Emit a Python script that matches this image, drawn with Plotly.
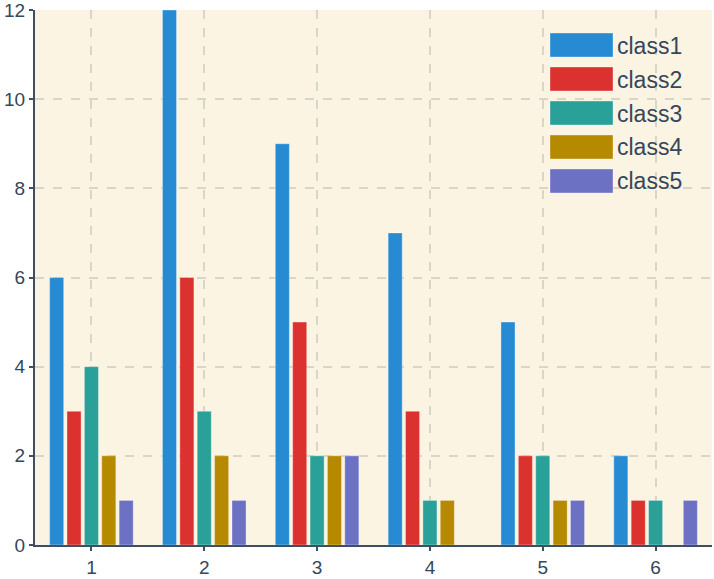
import plotly.graph_objects as go

categories = ["1", "2", "3", "4", "5", "6"]
series_names = ["class1", "class2", "class3", "class4", "class5"]
class1 = [6, 12, 9, 7, 5, 2]
class2 = [3, 6, 5, 3, 2, 1]
class3 = [4, 3, 2, 1, 2, 1]
class4 = [2, 2, 2, 1, 1, None]
class5 = [1, 1, 2, None, 1, 1]
y_ticks = [0, 2, 4, 6, 8, 10, 12]

series_values = [class1, class2, class3, class4, class5]
colors = ["#268bd2", "#dc322f", "#2aa198", "#b58900", "#6c71c4"]

TEXT = "#34475b"
GRID = "#d6d6c9"
BG = "#fcf4e3"
FONT = "Liberation Sans, Arial, sans-serif"

W, H = 714, 579
ML, MR, MT, MB = 35, 2, 10, 34
PW, PH = W - ML - MR, H - MT - MB

fig = go.Figure()
for name, vals, col in zip(series_names, series_values, colors):
    fig.add_trace(go.Bar(
        x=[int(c) for c in categories], y=vals, name=name,
        marker=dict(color=col, line=dict(color="rgba(255,255,255,0.35)", width=1)),
        showlegend=False,
    ))

def px_x(p):
    return (p - ML) / PW

def px_y(p):
    return (H - MB - p) / PH

shapes = []
annotations = []
for i, (name, col) in enumerate(zip(series_names, colors)):
    top = 33 + i * 34
    shapes.append(dict(type="rect", xref="paper", yref="paper",
                       x0=px_x(550), x1=px_x(613), y0=px_y(top + 24), y1=px_y(top),
                       fillcolor=col, line=dict(color="rgba(255,255,255,0.35)", width=1),
                       layer="above"))
    annotations.append(dict(xref="paper", yref="paper", x=px_x(615), y=px_y(top + 12.5),
                            text=name, showarrow=False, xanchor="left", yanchor="middle",
                            font=dict(size=23, color=TEXT, family=FONT)))

fig.update_layout(
    width=W, height=H,
    margin=dict(l=ML, r=MR, t=MT, b=MB, autoexpand=False),
    paper_bgcolor="white", plot_bgcolor=BG,
    barmode="group", bargap=0.23, bargroupgap=0.19,
    font=dict(family=FONT, color=TEXT, size=18),
    shapes=shapes, annotations=annotations,
    xaxis=dict(
        range=[0.5, 6.5], tickmode="array", tickvals=[int(c) for c in categories],
        ticktext=categories, showgrid=True, gridcolor=GRID, griddash="dash", gridwidth=2,
        showline=True, linecolor="#3d4f63", linewidth=2, ticks="outside", ticklen=4,
        tickcolor="#3d4f63", tickwidth=2, zeroline=False, automargin=False,
        tickfont=dict(size=19, color=TEXT), ticklabeloverflow="allow",
    ),
    yaxis=dict(
        range=[0, 12], tickvals=y_ticks, showgrid=True, gridcolor=GRID, griddash="dash",
        gridwidth=2, showline=True, linecolor="#3d4f63", linewidth=2, ticks="outside",
        ticklen=4, tickcolor="#3d4f63", tickwidth=2, zeroline=False, automargin=False,
        tickfont=dict(size=19, color=TEXT), ticklabeloverflow="allow",
    ),
)

fig.write_html("out.html", config={"displayModeBar": False},
               post_script="document.body.style.margin='0';document.body.style.overflow='hidden';")
